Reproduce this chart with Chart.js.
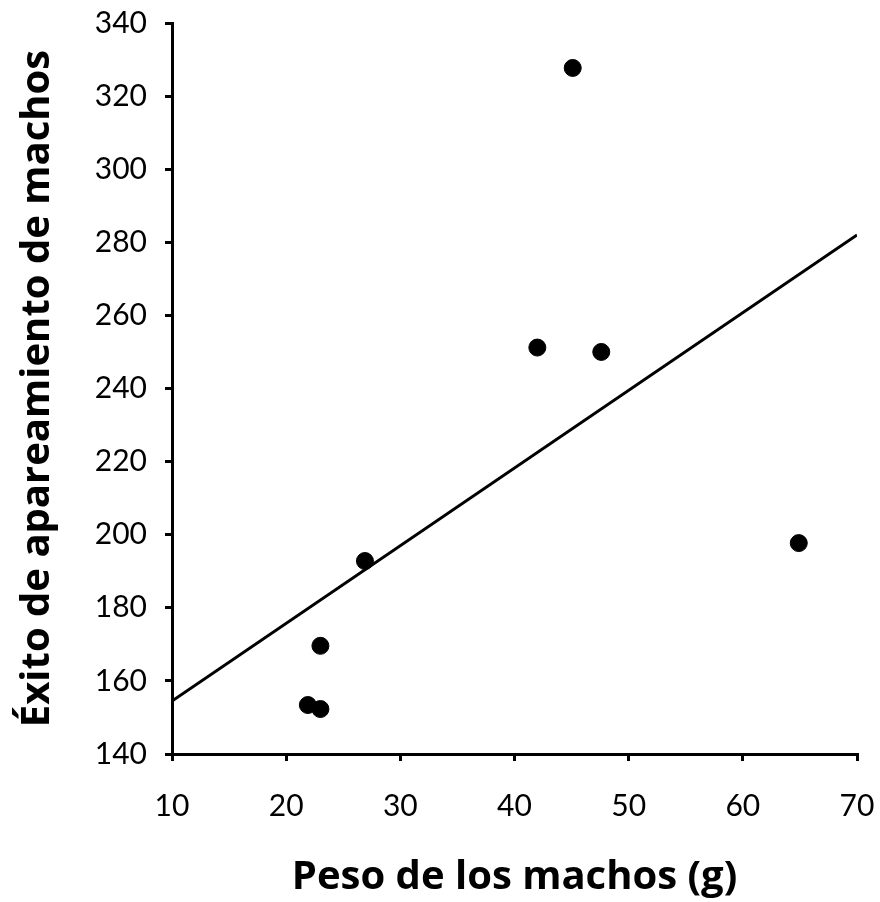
<!DOCTYPE html>
<html>
<head>
<meta charset="utf-8">
<script src="https://cdn.jsdelivr.net/npm/chart.js@4/dist/chart.umd.min.js"></script>
<style>
  html, body { margin: 0; padding: 0; background: #fff; }
  #wrap { width: 880px; height: 902px; }
</style>
</head>
<body>
<div id="wrap"><canvas id="c" width="880" height="902"></canvas></div>
<script>
// Male body weight (g) and mating success
const pesoMachos = [45.1, 42.0, 47.6, 26.9, 23.0, 21.9, 23.0, 64.9];
const exitoApareamiento = [327.7, 251.2, 250.0, 192.8, 169.6, 153.4, 152.3, 197.7];

// Fitted trend line, end points at x = 10 and x = 70
const trendX = [10, 70];
const trendY = [154.5, 282.0];

const xTicks = [10, 20, 30, 40, 50, 60, 70];
const yTicks = [140, 160, 180, 200, 220, 240, 260, 280, 300, 320, 340];

const points = pesoMachos.map((x, i) => ({ x, y: exitoApareamiento[i] }));
const trend = trendX.map((x, i) => ({ x, y: trendY[i] }));

const tickFont = { family: 'Lato', size: 30 };
const titleFont = { family: "'Open Sans'", size: 40, weight: 'bold' };

new Chart(document.getElementById('c'), {
  type: 'scatter',
  data: {
    datasets: [
      {
        type: 'line',
        data: trend,
        borderColor: '#000',
        borderWidth: 3,
        pointRadius: 0,
        fill: false,
        tension: 0
      },
      {
        data: points,
        backgroundColor: '#000',
        borderColor: '#000',
        pointRadius: 8.5,
        pointHoverRadius: 8.5
      }
    ]
  },
  options: {
    responsive: false,
    animation: false,
    events: [],
    layout: { padding: { left: 0, right: 23, top: 23, bottom: 0 } },
    plugins: { legend: { display: false }, tooltip: { enabled: false } },
    scales: {
      x: {
        type: 'linear',
        min: xTicks[0],
        max: xTicks[xTicks.length - 1],
        afterBuildTicks: (s) => { s.ticks = xTicks.map(v => ({ value: v })); },
        afterFit: (s) => {
          s.height = 902 - 754;
          s.paddingLeft = 0;
          s.paddingRight = 0;
        },
        border: { color: '#000', width: 3 },
        grid: { drawOnChartArea: false, color: '#000', lineWidth: 3, tickLength: 7 },
        ticks: { color: '#000', font: tickFont, padding: 27, maxRotation: 0 },
        title: {
          display: true,
          text: 'Peso de los machos (g)',
          color: '#000',
          font: titleFont,
          padding: { top: 0, bottom: 0 }
        }
      },
      y: {
        type: 'linear',
        min: yTicks[0],
        max: yTicks[yTicks.length - 1],
        afterBuildTicks: (s) => { s.ticks = yTicks.map(v => ({ value: v })); },
        afterFit: (s) => {
          s.width = 172;
          s.paddingTop = 0;
          s.paddingBottom = 0;
        },
        border: { color: '#000', width: 3 },
        grid: { drawOnChartArea: false, color: '#000', lineWidth: 3, tickLength: 7 },
        ticks: { color: '#000', font: tickFont, padding: 18 },
        title: {
          display: true,
          text: 'Éxito de apareamiento de machos',
          color: '#000',
          font: titleFont,
          padding: { top: 14, bottom: 0 }
        }
      }
    }
  }
});
</script>
</body>
</html>
